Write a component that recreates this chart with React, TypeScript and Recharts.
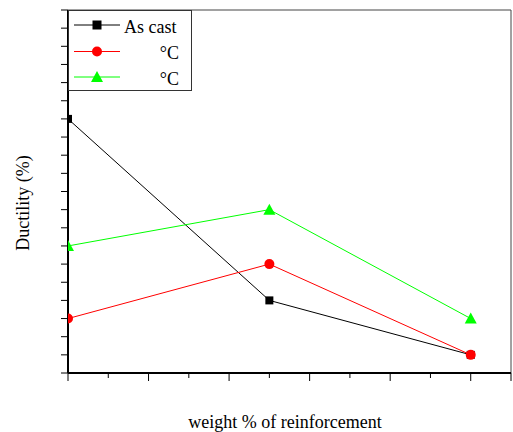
import React from 'react';
import { LineChart, Line, XAxis, YAxis, ReferenceLine, Legend, Customized } from 'recharts';

const reinforcement = [0, 5, 10];
const asCast = [14, 4, 1];
const tempA = [3, 6, 1];
const tempB = [7, 9, 3];
const seriesNames = ['As cast', '°C', '°C'];
const xTicks = [0, 1, 2, 3, 4, 5, 6, 7, 8, 9, 10, 11];
const yTicks = [0, 1, 2, 3, 4, 5, 6, 7, 8, 9, 10, 11, 12, 13, 14, 15, 16, 17, 18, 19, 20];

const FONT = '"Liberation Serif", "Times New Roman", serif';

const data = reinforcement.map((x, i) => ({
  x,
  asCast: asCast[i],
  tempA: tempA[i],
  tempB: tempB[i],
}));

const SquareDot = ({ cx, cy, index }: any) => (
  <rect key={`sq-${index}`} x={cx - 4} y={cy - 4} width={8} height={8} fill="#000" />
);

const CircleDot = ({ cx, cy, index }: any) => (
  <circle key={`ci-${index}`} cx={cx} cy={cy} r={5} fill="#ff0000" />
);

const TriangleDot = ({ cx, cy, index }: any) => (
  <polygon
    key={`tr-${index}`}
    points={`${cx},${cy - 6} ${cx + 6},${cy + 5} ${cx - 6},${cy + 5}`}
    fill="#00ff00"
  />
);

// major ticks on even values, minor ones in between
const XTick = ({ x, y, payload }: any) => {
  const v = payload.value;
  const len = v % 2 === 0 || v === 11 ? 8 : 5;
  return <line x1={x} x2={x} y1={y} y2={y + len} stroke="#000" strokeWidth={1} />;
};

const YTick = ({ x, y }: any) => (
  <line x1={x - 7} x2={x} y1={y} y2={y} stroke="#000" strokeWidth={1} />
);

const LegendBox = () => {
  const rows = [
    { color: '#000', y: 15, marker: 'square' },
    { color: '#ff0000', y: 41.5, marker: 'circle' },
    { color: '#00ff00', y: 67, marker: 'triangle' },
  ];
  return (
    <svg width={124} height={81} style={{ display: 'block' }}>
      <rect x={0.5} y={0.5} width={123} height={80} fill="#fff" stroke="#333" />
      {rows.map((r, i) => (
        <g key={i}>
          <line x1={6} x2={52} y1={r.y} y2={r.y} stroke={r.color} strokeWidth={1} />
          {r.marker === 'square' && <rect x={24.5} y={r.y - 4.5} width={9} height={9} fill={r.color} />}
          {r.marker === 'circle' && <circle cx={29} cy={r.y} r={5} fill={r.color} />}
          {r.marker === 'triangle' && (
            <polygon points={`29,${r.y - 6} 35,${r.y + 5} 23,${r.y + 5}`} fill={r.color} />
          )}
          <text
            x={i === 0 ? 56 : 111}
            y={r.y + 7.5}
            textAnchor={i === 0 ? 'start' : 'end'}
            style={{ fontFamily: FONT, fontSize: 18 }}
            fill="#000"
          >
            {seriesNames[i]}
          </text>
        </g>
      ))}
    </svg>
  );
};

const AxisTitles = () => (
  <g>
    <text x={285} y={428} textAnchor="middle" fill="#000" style={{ fontFamily: FONT, fontSize: 18 }}>
      weight % of reinforcement
    </text>
    <text
      transform="translate(29,203) rotate(-90)"
      textAnchor="middle"
      fill="#000"
      style={{ fontFamily: FONT, fontSize: 18 }}
    >
      Ductility (%)
    </text>
  </g>
);

const App: React.FC = () => {
  return (
    <div style={{ position: 'absolute', left: 0, top: 0, background: '#fff' }}>
      <LineChart width={513} height={432} data={data} margin={{ top: 10, right: 2, left: 58, bottom: 49 }}>
        <XAxis
          dataKey="x"
          type="number"
          domain={[0, 11]}
          ticks={xTicks}
          interval={0}
          allowDataOverflow
          height={10}
          tickSize={0}
          tickMargin={0}
          tickLine={false}
          tick={<XTick />}
          axisLine={{ stroke: '#000', strokeWidth: 2 }}
        />
        <YAxis
          type="number"
          domain={[0, 20]}
          ticks={yTicks}
          interval={0}
          allowDataOverflow
          width={10}
          tickSize={0}
          tickMargin={0}
          tickLine={false}
          tick={<YTick />}
          axisLine={{ stroke: '#000', strokeWidth: 2 }}
        />
        <ReferenceLine y={20} stroke="#444" strokeWidth={1} />
        <ReferenceLine x={11} stroke="#444" strokeWidth={1} />
        <Line
          dataKey="asCast"
          stroke="#000"
          strokeWidth={1}
          dot={SquareDot}
          activeDot={false}
          isAnimationActive={false}
        />
        <Line
          dataKey="tempB"
          stroke="#00ff00"
          strokeWidth={1}
          dot={TriangleDot}
          activeDot={false}
          isAnimationActive={false}
        />
        <Line
          dataKey="tempA"
          stroke="#ff0000"
          strokeWidth={1}
          dot={CircleDot}
          activeDot={false}
          isAnimationActive={false}
        />
        <Legend
          layout="horizontal"
          verticalAlign="middle"
          content={<LegendBox />}
          wrapperStyle={{ left: 68, top: 10, width: 124, height: 81 }}
        />
        <Customized component={AxisTitles} />
      </LineChart>
    </div>
  );
};

export default App;
